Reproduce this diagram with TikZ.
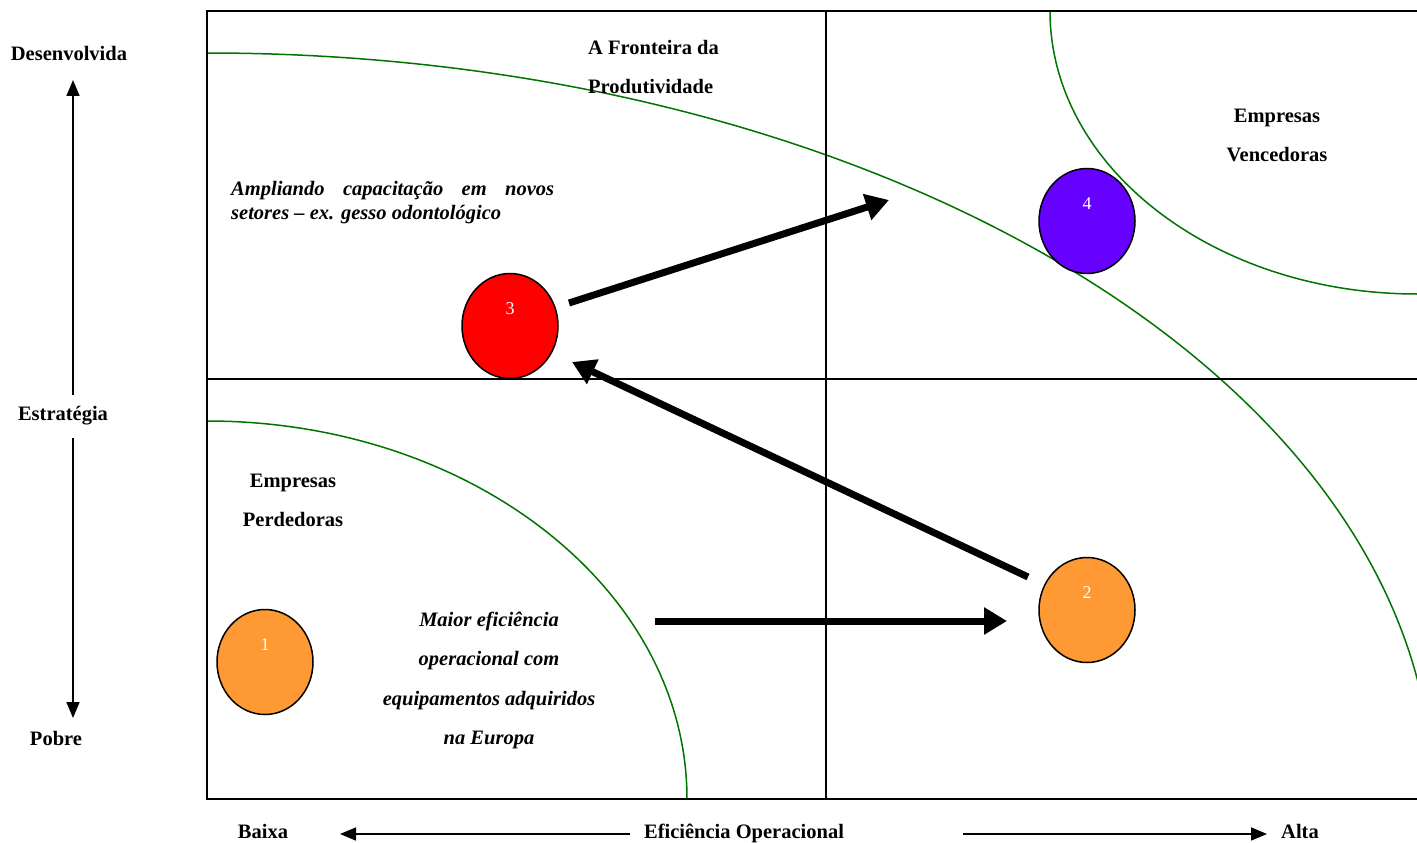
\documentclass[tikz,border=0pt]{standalone}
\usepackage{fontspec}
\setmainfont{Liberation Serif}
\usetikzlibrary{arrows.meta,shapes.geometric}

\definecolor{frontier}{RGB}{0,115,0}
\definecolor{ballorange}{RGB}{255,153,51}
\definecolor{ballred}{RGB}{255,0,0}
\definecolor{ballviolet}{RGB}{102,0,255}

\tikzset{
  every node/.style={font=\fontsize{20.5}{24}\selectfont, inner sep=0pt},
  lbl/.style={font=\fontsize{20.5}{24}\selectfont\bfseries, anchor=base},
  note/.style={font=\fontsize{20.5}{24}\selectfont\bfseries\itshape, anchor=base},
  ball/.style={ellipse, draw=black, line width=1.5pt, minimum width=96pt, minimum height=105pt},
  ballnum/.style={font=\fontsize{18}{20}\selectfont, text=white, anchor=base},
  curve/.style={draw=frontier, line width=1.5pt},
  frame/.style={draw=black, line width=2pt},
  move/.style={line width=7pt, -{Triangle[length=23pt,width=26pt]}},
  axis/.style={line width=1.6pt, -{Triangle[length=16pt,width=13pt]}}
}

\begin{document}
\begin{tikzpicture}[x=1pt,y=-1pt]
\useasboundingbox (0,0) rectangle (1417,843);

% frontier curves, kept inside the chart area
\begin{scope}
  \clip (207,11) rectangle (1417,799);
  \draw[curve] (207,53) arc[start angle=-90, end angle=0, x radius=1226, y radius=746];
  \draw[curve] (207,421) arc[start angle=-90, end angle=0, x radius=480, y radius=378];
  \draw[curve] (1050,11) arc[start angle=180, end angle=90, x radius=367, y radius=283];
\end{scope}

% chart frame and quadrant dividers
\draw[frame] (1417,11) -- (207,11) -- (207,799) -- (1417,799);
\draw[frame] (826,11) -- (826,799);
\draw[frame] (207,379) -- (1417,379);

% vertical axis
\node[lbl] (desenv) at (69,61) {Desenvolvida};
\node[lbl] (estrat) at (63,420) {Estratégia};
\node[lbl] (pobre) at (56,745) {Pobre};
\coordinate (vtop) at (73,80);
\coordinate (vbot) at (73,718);
\coordinate (vgapA) at (73,395);
\coordinate (vgapB) at (73,438);
\draw[axis] (vgapA) -- (vtop);
\draw[axis] (vgapB) -- (vbot);

% horizontal axis
\node[lbl] (baixa) at (263,838) {Baixa};
\node[lbl] (efop) at (744,838) {Eficiência Operacional};
\node[lbl] (alta) at (1300,838) {Alta};
\coordinate (hleftA) at (630,834);
\coordinate (hleftB) at (340,834);
\coordinate (hrightA) at (963,834);
\coordinate (hrightB) at (1267,834);
\draw[axis] (hleftA) -- (hleftB);
\draw[axis] (hrightA) -- (hrightB);

% region titles
\node[lbl, anchor=base west] (front1) at (588,55) {A Fronteira da};
\node[lbl, anchor=base west] (front2) at (588,94) {Produtividade};
\node[lbl] (venc1) at (1277,122) {Empresas};
\node[lbl] (venc2) at (1277,161) {Vencedoras};
\node[lbl] (perd1) at (293,487) {Empresas};
\node[lbl] (perd2) at (293,526) {Perdedoras};

% notes
\node[note, anchor=base west] (amp1) at (231,195)
  {\makebox[323pt][s]{Ampliando\hfill capacitação\hfill em\hfill novos}};
\node[note, anchor=base west] (amp2) at (231,219) {setores – ex. gesso odontológico};
\node[note] (mai1) at (489,626) {Maior eficiência};
\node[note] (mai2) at (489,665) {operacional com};
\node[note] (mai3) at (489,705) {equipamentos adquiridos};
\node[note] (mai4) at (489,744) {na Europa};

% company positions
\node[ball, fill=ballorange] (c1) at (265,662) {};
\node[ball, fill=ballorange] (c2) at (1087,610) {};
\node[ball, fill=ballred] (c3) at (510,326) {};
\node[ball, fill=ballviolet] (c4) at (1087,221) {};
\node[ballnum] (n1) at ([yshift=12pt]c1.center) {1};
\node[ballnum] (n2) at ([yshift=12pt]c2.center) {2};
\node[ballnum] (n3) at ([yshift=12pt]c3.center) {3};
\node[ballnum] (n4) at ([yshift=12pt]c4.center) {4};

% movements
\coordinate (m1a) at (655,621);
\coordinate (m1b) at (1007,621);
\coordinate (m2a) at (1028,577);
\coordinate (m2b) at (572,362);
\coordinate (m3a) at (569,303);
\coordinate (m3b) at (889,200);
\draw[move] (m1a) -- (m1b);
\draw[move] (m2a) -- (m2b);
\draw[move] (m3a) -- (m3b);
\end{tikzpicture}
\end{document}
